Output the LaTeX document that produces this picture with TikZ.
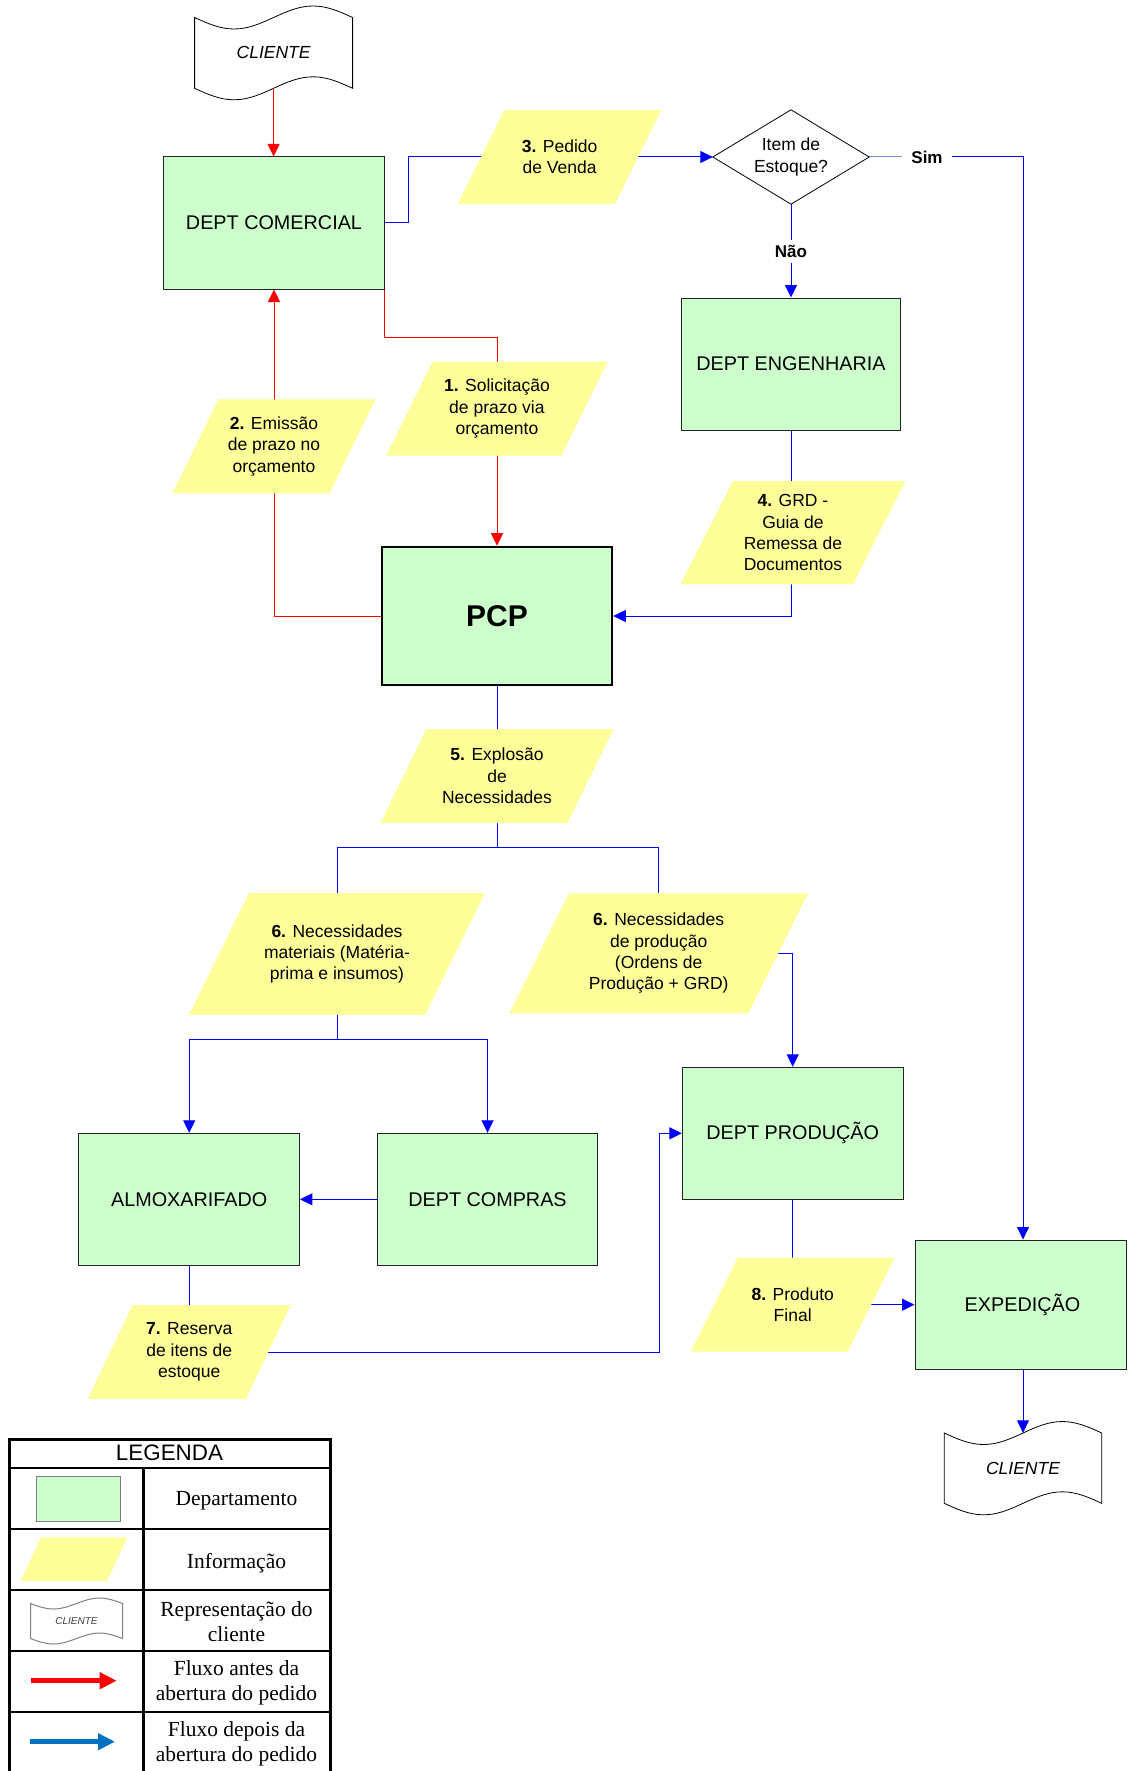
\documentclass[tikz,border=0pt]{standalone}
\usepackage{fontspec}
\setmainfont{Liberation Sans}
\newfontfamily\serifleg{Liberation Serif}
\usetikzlibrary{arrows.meta,calc}
\pgfdeclarelayer{bg}
\pgfsetlayers{bg,main}
\definecolor{deptgreen}{HTML}{CCFFCC}
\definecolor{infoyellow}{HTML}{FFFF99}
\definecolor{simblue}{RGB}{110,150,210}
\definecolor{legblue}{RGB}{0,112,192}
\definecolor{edgegray}{RGB}{35,35,35}
\tikzset{
  dept/.style={draw=edgegray, line width=1pt, fill=deptgreen, minimum width=220.5pt,
    minimum height=132pt, inner sep=0pt, font=\fontsize{19.8}{23}\selectfont},
  infotext/.style={inner sep=0pt, align=center, font=\fontsize{17.5}{21.3}\selectfont},
  lbl/.style={inner sep=0pt, font=\bfseries\fontsize{17}{20}\selectfont},
  tip/.style={-{Triangle[length=12.5pt,width=12pt]}},
  bluecon/.style={draw=blue, line width=1pt},
  redcon/.style={draw=red, line width=1pt},
  legtext/.style={inner sep=0pt, align=center, font=\serifleg\fontsize{21.5}{24.5}\selectfont},
}
% name, cx, cy, w, h, slant, text
\newcommand{\infopara}[7]{%
  \fill[infoyellow] ({#2-#4/2+#6/2},{#3-#5/2}) -- ({#2+#4/2+#6/2},{#3-#5/2})
     -- ({#2+#4/2-#6/2},{#3+#5/2}) -- ({#2-#4/2-#6/2},{#3+#5/2}) -- cycle;
  \node[infotext, minimum width=#4pt, minimum height=#5pt] (#1) at (#2,#3) {#7};
}
% x0, ytop, w, ybot, amplitude, options
\newcommand{\tapeshape}[6]{%
  \draw[#6] (#1,#2) sin ({#1+#3/4},{#2+#5}) cos ({#1+#3/2},#2)
     sin ({#1+3*#3/4},{#2-#5}) cos ({#1+#3},#2) -- ({#1+#3},#4)
     sin ({#1+3*#3/4},{#4-#5}) cos ({#1+#3/2},#4)
     sin ({#1+#3/4},{#4+#5}) cos (#1,#4) -- cycle;
}
\begin{document}
\begin{tikzpicture}[x=1pt,y=-1pt]
\useasboundingbox (0,0) rectangle (1127,1771);
\begin{pgfonlayer}{bg}
  \fill[white] (0,0) rectangle (1127,1771);
\end{pgfonlayer}

% ---------- client shapes ----------
\tapeshape{194.6}{17.5}{158}{88.3}{11.5}{fill=white, draw=black, line width=0.8pt}
\node[inner sep=0pt, minimum width=158pt, minimum height=70.8pt,
  font=\itshape\fontsize{17.5}{21}\selectfont] (cli1) at (273.6,52.9) {CLIENTE};

\tapeshape{944.3}{1433}{157.4}{1503.3}{11.5}{fill=white, draw=black, line width=0.8pt}
\node[inner sep=0pt, minimum width=157.4pt, minimum height=70.3pt,
  font=\itshape\fontsize{17.5}{21}\selectfont] (cli2) at (1023,1468.2) {CLIENTE};

% ---------- departments ----------
\node[dept, minimum width=220.6pt] (com) at (274,223) {DEPT COMERCIAL};
\node[dept, minimum width=219pt] (eng) at (791,364) {DEPT ENGENHARIA};
\node[dept, line width=2.6pt, draw=black, minimum width=230pt, minimum height=138pt,
  font=\bfseries\fontsize{30}{34}\selectfont] (pcp) at (497,616) {PCP};
\node[dept] (alm) at (189.2,1199.3) {ALMOXARIFADO};
\node[dept] (cmp) at (487.5,1199.3) {DEPT COMPRAS};
\node[dept, minimum width=220.7pt] (prod) at (792.7,1133.3) {DEPT PRODUÇÃO};
\node[dept, minimum width=211pt, minimum height=129.3pt] (exp) at (1020.5,1304.7) {\hspace*{4pt}EXPEDIÇÃO};

% ---------- decision ----------
\node[infotext, minimum width=156pt, minimum height=94pt] (dia) at (791,157) {Item de\\Estoque?};
\draw[black, line width=0.8pt] (dia.north) -- (dia.east) -- (dia.south) -- (dia.west) -- cycle;
\node[lbl, inner xsep=9pt] (sim) at (927,157) {Sim};
\node[lbl, inner ysep=4.8pt] (nao) at (791,251.5) {Não};

% ---------- information ----------
\infopara{p3}{559.6}{157}{157}{94}{46.5}{\textbf{3.} Pedido\\de Venda}
\infopara{p1}{496.9}{408.7}{175}{94}{46.5}{\textbf{1.} Solicitação\\de prazo via\\orçamento}
\infopara{p2}{274}{446.3}{157}{94}{46}{\textbf{2.} Emissão\\de prazo no\\orçamento}
\infopara{p4}{792.9}{532.7}{172.5}{103.3}{52.5}{\textbf{4.} GRD -\\Guia de\\Remessa de\\Documentos}
\infopara{p5}{497}{776}{187}{94}{46}{\textbf{5.} Explosão\\de\\Necessidades}
\infopara{p6L}{337}{954}{236}{121.7}{60}{\textbf{6.} Necessidades\\materiais (Matéria-\\prima e insumos)}
\infopara{p6R}{658.7}{953.3}{239}{120}{59.5}{\textbf{6.} Necessidades\\de produção\\(Ordens de\\Produção + GRD)}
\infopara{p7}{189.2}{1352}{158}{94}{45}{\textbf{7.} Reserva\\de itens de\\estoque}
\infopara{p8}{792.7}{1304.7}{157}{94}{47}{\textbf{8.} Produto\\Final}

% ---------- connectors ----------
\begin{pgfonlayer}{bg}
  % red flow
  \draw[redcon, tip] (cli1.south) -- (cli1.south |- com.north);
  \draw[redcon, tip] (com.south east) -- ++(0,47.7) -| (pcp.north);
  \draw[redcon, tip] (pcp.west) -| (com.south);
  % blue flow
  \draw[bluecon, tip] (com.east) -- ++(23.7,0) |- (dia.west);
  \draw[draw=simblue, line width=1pt] (dia.east) -- (sim.west);
  \draw[bluecon, tip] (sim.east) -| (cli2.north |- exp.north);
  \draw[bluecon] (dia.south) -- (nao.north);
  \draw[bluecon, tip] (nao.south) -- (eng.north);
  \draw[bluecon, tip] (eng.south) |- (pcp.east);
  \draw[bluecon] (pcp.south) -- ++(0,161) coordinate (j5);
  \draw[bluecon] (j5) -| (p6L.north);
  \draw[bluecon] (j5) -| (p6R.north);
  \draw[bluecon] (p6L.south) -- ++(0,24.3) coordinate (j6);
  \draw[bluecon, tip] (j6) -| (alm.north);
  \draw[bluecon, tip] (j6) -| (cmp.north);
  \draw[bluecon, tip] (p6R.east) -| (prod.north);
  \draw[bluecon, tip] (cmp.west) -- (alm.east);
  \draw[bluecon] (alm.south) -- (p7.north);
  \draw[bluecon, tip] (p7.east) -- ++(390.8,0) |- (prod.west);
  \draw[bluecon] (prod.south) -- (p8.north);
  \draw[bluecon, tip] (p8.east) -- (exp.west);
  \draw[bluecon, tip] (cli2.north |- exp.south) -- (cli2.north);
\end{pgfonlayer}

% ---------- legend ----------
\draw[line width=3pt] (9,1439) rectangle (330,1776);
\foreach \yy in {1468,1529,1590,1651,1712} \draw[line width=2.8pt] (9,\yy) -- (330,\yy);
\draw[line width=2.8pt] (143.3,1468) -- (143.3,1776);
\node[inner sep=0pt, font=\fontsize{22.4}{26}\selectfont] (legt) at (169.5,1452.5) {LEGENDA};

\node[draw=gray, line width=1pt, fill=deptgreen, minimum width=83.6pt, minimum height=44.6pt,
  inner sep=0pt] (legdept) at (78.5,1499) {};
\infopara{leginfo}{74}{1559.2}{86.3}{43.7}{20.3}{}
\tapeshape{30.5}{1603.5}{92}{1638.5}{5.5}{fill=white, draw=gray, line width=1pt}
\node[inner sep=0pt, text=darkgray, font=\itshape\fontsize{10}{12}\selectfont] (legcli) at (76.5,1621) {CLIENTE};
\coordinate (lr1) at (31,1680.7);
\coordinate (lr2) at (116.7,1680.7);
\draw[red, line width=4.5pt, -{Triangle[length=17pt,width=16pt]}] (lr1) -- (lr2);
\coordinate (lb1) at (29.7,1741.7);
\coordinate (lb2) at (115,1741.7);
\draw[legblue, line width=4.5pt, -{Triangle[length=17pt,width=16pt]}] (lb1) -- (lb2);

\node[legtext] (l1) at (236.5,1500.5) {Departamento};
\node[legtext] (l2) at (236.5,1562.7) {Informação};
\node[legtext] (l3) at (236.5,1621.5) {Representação do\\cliente};
\node[legtext] (l4) at (236.5,1683) {Fluxo antes da\\abertura do pedido};
\node[legtext] (l5) at (236.5,1744) {Fluxo depois da\\abertura do pedido};
\end{tikzpicture}
\end{document}
